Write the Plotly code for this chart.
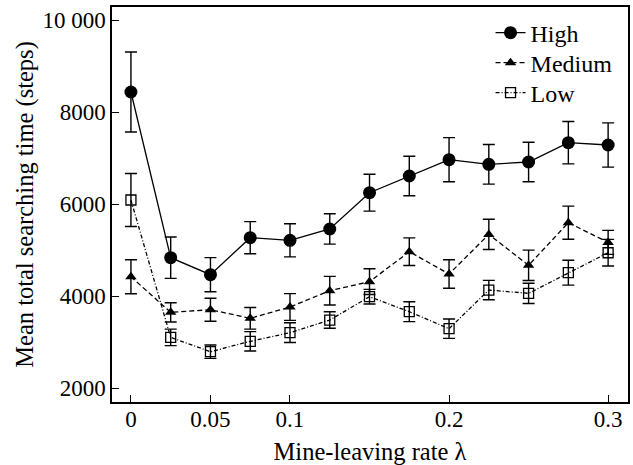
import plotly.graph_objects as go

x_vals = [0, 0.025, 0.05, 0.075, 0.1, 0.125, 0.15, 0.175, 0.2, 0.225, 0.25, 0.275, 0.3]

high = [8435, 4833, 4464, 5268, 5210, 5457, 6246, 6609, 6964, 6863, 6913, 7333, 7283]
high_err = [870, 450, 370, 350, 360, 330, 400, 430, 480, 430, 430, 460, 480]

medium = [4420, 3645, 3703, 3515, 3761, 4116, 4312, 4964, 4478, 5340, 4667, 5594, 5166]
medium_err = [370, 210, 250, 235, 290, 310, 280, 300, 310, 330, 330, 360, 260]

low = [6087, 3101, 2789, 3015, 3203, 3478, 3985, 3659, 3290, 4130, 4058, 4507, 4941]
low_err = [575, 180, 145, 210, 215, 180, 160, 215, 210, 210, 220, 270, 290]

y_tickvals = [2000, 4000, 6000, 8000, 10000]
y_ticktext = ["2000", "4000", "6000", "8000", "10 000"]
x_tickvals = [0, 0.05, 0.1, 0.2, 0.3]
x_ticktext = ["0", "0.05", "0.1", "0.2", "0.3"]

FONT = "Liberation Serif"

def err(vals):
    return dict(type="data", array=vals, visible=True, color="black", thickness=1.4, width=6)

fig = go.Figure()
fig.add_trace(go.Scatter(
    x=x_vals, y=high, name="High", mode="lines+markers", legend="legend",
    line=dict(color="black", width=1.3, dash="solid"),
    marker=dict(symbol="circle", size=13, color="black"),
    error_y=err(high_err)))
fig.add_trace(go.Scatter(
    x=x_vals, y=medium, name="Medium", mode="lines+markers", legend="legend2",
    line=dict(color="black", width=1.3, dash="5px,3px"),
    marker=dict(symbol="triangle-up", size=10, color="black"),
    error_y=err(medium_err)))
fig.add_trace(go.Scatter(
    x=x_vals, y=low, name="Low", mode="lines+markers", legend="legend3",
    line=dict(color="black", width=1.3, dash="4px,2px,1px,2px"),
    marker=dict(symbol="square-open", size=10, color="black", line=dict(width=1.3)),
    error_y=err(low_err)))

def leg(ypos):
    return dict(x=0.7336, y=ypos, xanchor="left", yanchor="middle",
                bgcolor="rgba(0,0,0,0)", font=dict(family=FONT, size=24))

fig.update_layout(
    width=633, height=465,
    margin=dict(l=112, r=3, t=7, b=63),
    paper_bgcolor="white", plot_bgcolor="white",
    font=dict(family=FONT, size=23, color="black"),
    showlegend=True,
    legend=leg(0.934), legend2=leg(0.858), legend3=leg(0.782),
    xaxis=dict(range=[-0.0119, 0.3125], tickvals=x_tickvals, ticktext=x_ticktext,
               ticks="inside", ticklen=7, tickwidth=1.3, tickcolor="black",
               showline=True, linecolor="black", linewidth=1.5, mirror=True,
               showgrid=False, zeroline=False, automargin=False,
               ticklabelstandoff=-4,
               title=dict(text="Mine-leaving rate λ", font=dict(family=FONT, size=24.5)),
               tickfont=dict(family=FONT, size=23)),
    yaxis=dict(range=[1696, 10283], tickvals=y_tickvals, ticktext=y_ticktext,
               ticks="inside", ticklen=7, tickwidth=1.3, tickcolor="black",
               showline=True, linecolor="black", linewidth=1.5, mirror=True,
               showgrid=False, zeroline=False, automargin=True,
               title=dict(text="Mean total searching time (steps)", font=dict(family=FONT, size=24.5), standoff=2),
               tickfont=dict(family=FONT, size=23)),
)

fig.write_html("out.html", config={"displayModeBar": False},
               post_script="document.body.style.margin='0';")
